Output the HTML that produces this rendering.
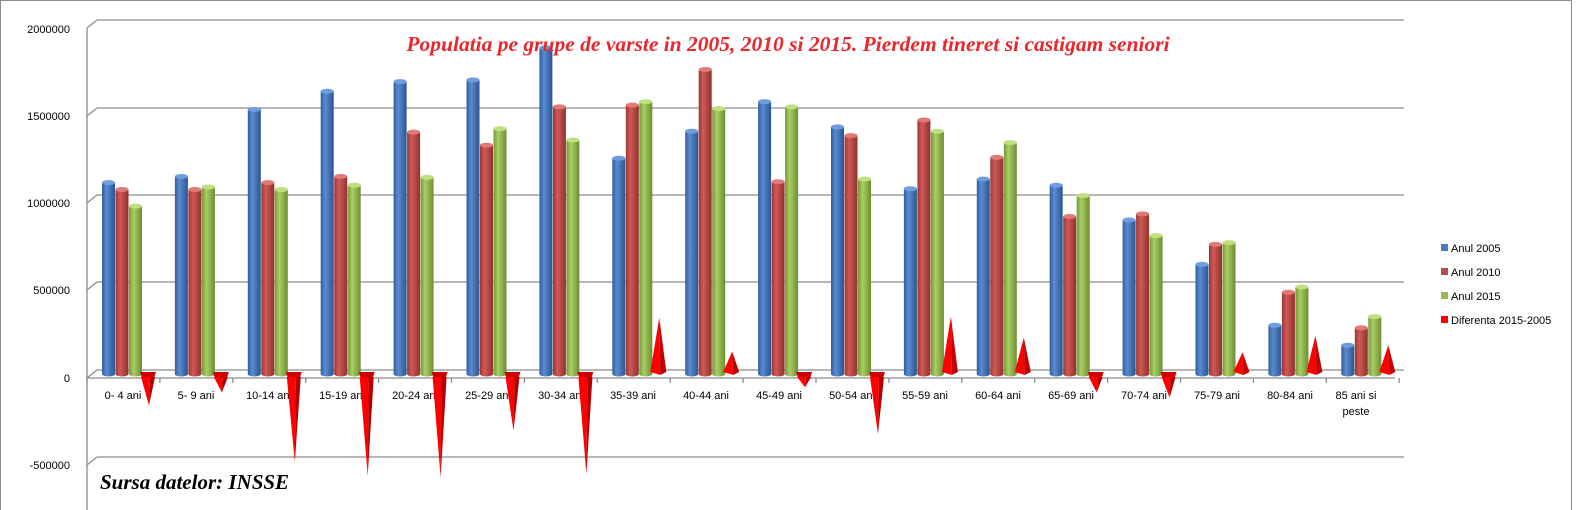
<!DOCTYPE html>
<html><head><meta charset="utf-8"><style>
html,body{margin:0;padding:0;background:#fff}
svg{display:block}
text{font-family:"Liberation Sans",sans-serif;font-size:11px;fill:#000}
</style></head><body>
<svg id="s" width="1578" height="510" xmlns="http://www.w3.org/2000/svg">
<defs>
<linearGradient id="gb" x1="0" x2="1"><stop offset="0" stop-color="#2f5e9c"/><stop offset="0.35" stop-color="#5b8bd0"/><stop offset="1" stop-color="#2a5590"/></linearGradient>
<linearGradient id="gr" x1="0" x2="1"><stop offset="0" stop-color="#9a3633"/><stop offset="0.35" stop-color="#d05a56"/><stop offset="1" stop-color="#8f312e"/></linearGradient>
<linearGradient id="gg" x1="0" x2="1"><stop offset="0" stop-color="#76963a"/><stop offset="0.35" stop-color="#a9cf63"/><stop offset="1" stop-color="#6d8d34"/></linearGradient>
</defs>
<rect x="0.5" y="0.5" width="1571" height="515" fill="#fff" stroke="#8c8c8c"/>
<g id="grid" stroke="#8c8c8c" stroke-width="1.3" fill="none"></g>
<g id="bars"></g>
<g font-size="11">
<text x="70" y="33" text-anchor="end">2000000</text>
<text x="70" y="120" text-anchor="end">1500000</text>
<text x="70" y="207" text-anchor="end">1000000</text>
<text x="70" y="294" text-anchor="end">500000</text>
<text x="70" y="382" text-anchor="end">0</text>
<text x="70" y="469" text-anchor="end">-500000</text>
</g>
<g text-anchor="middle">
<text x="123" y="399">0- 4 ani</text>
<text x="196" y="399">5- 9 ani</text>
<text x="269" y="399">10-14 ani</text>
<text x="342" y="399">15-19 ani</text>
<text x="415" y="399">20-24 ani</text>
<text x="488" y="399">25-29 ani</text>
<text x="561" y="399">30-34 ani</text>
<text x="633" y="399">35-39 ani</text>
<text x="706" y="399">40-44 ani</text>
<text x="779" y="399">45-49 ani</text>
<text x="852" y="399">50-54 ani</text>
<text x="925" y="399">55-59 ani</text>
<text x="998" y="399">60-64 ani</text>
<text x="1071" y="399">65-69 ani</text>
<text x="1144" y="399">70-74 ani</text>
<text x="1217" y="399">75-79 ani</text>
<text x="1290" y="399">80-84 ani</text>
<text x="1356" y="399">85 ani si</text>
<text x="1356" y="415">peste</text>
</g>
<g id="cones"></g>
<text x="788" y="51" text-anchor="middle" style="font-family:'Liberation Serif',serif;font-style:italic;font-weight:bold;font-size:21.5px;fill:#e8262c">Populatia pe grupe de varste in 2005, 2010 si 2015. Pierdem tineret si castigam seniori</text>
<text x="100" y="489" style="font-family:'Liberation Serif',serif;font-style:italic;font-weight:bold;font-size:21px;fill:#000">Sursa datelor: INSSE</text>
<rect x="1441" y="244" width="7" height="7" fill="#4a7ebb"/><text x="1451" y="252">Anul 2005</text>
<rect x="1441" y="268" width="7" height="7" fill="#be4b48"/><text x="1451" y="276">Anul 2010</text>
<rect x="1441" y="292" width="7" height="7" fill="#98b954"/><text x="1451" y="300">Anul 2015</text>
<rect x="1441" y="316" width="7" height="7" fill="#ff0000"/><text x="1451" y="324">Diferenta 2015-2005</text>
</svg>
<script>
var NS="http://www.w3.org/2000/svg";
function el(p,t,a){var e=document.createElementNS(NS,t);for(var k in a)e.setAttribute(k,a[k]);p.appendChild(e);return e;}
var grid=document.getElementById('grid'),bars=document.getElementById('bars'),cones=document.getElementById('cones');
var ys=[20,108,195,282,370,457];
ys.forEach(function(y){el(grid,'line',{x1:97,y1:y,x2:1404,y2:y});el(grid,'line',{x1:87,y1:y+8,x2:97,y2:y});});
el(grid,'line',{x1:87,y1:28,x2:87,y2:510});
el(grid,'line',{x1:87,y1:378,x2:1395,y2:378});
for(var i=0;i<=18;i++){var x=87+i*72.9;el(grid,'line',{x1:x,y1:378,x2:x,y2:383});}
var d=[[1100000,1060000,965000,-135000],[1135000,1060000,1075000,-60000],[1520000,1100000,1060000,-460000],[1625000,1135000,1085000,-540000],[1680000,1390000,1130000,-550000],[1690000,1315000,1410000,-280000],[1875000,1535000,1345000,-530000],[1240000,1545000,1565000,325000],[1395000,1750000,1525000,130000],[1565000,1105000,1535000,-30000],[1420000,1370000,1120000,-300000],[1065000,1460000,1395000,330000],[1120000,1245000,1330000,210000],[1085000,905000,1025000,-60000],[885000,920000,795000,-90000],[630000,745000,755000,125000],[280000,470000,500000,220000],[165000,265000,330000,165000]];
var g=['url(#gb)','url(#gr)','url(#gg)'],tops=['#6f9de0','#df7a76','#bfe07f'];
var Z=374,S=87/500000;
d.forEach(function(r,i){var L=87+i*72.9;
 for(var j=0;j<3;j++){var x=L+15+j*13.5,w=13,y=Z-r[j]*S;
  el(bars,'rect',{x:x,y:y,width:w,height:Z-y,fill:g[j]});
  el(bars,'ellipse',{cx:x+w/2,cy:Z,rx:w/2,ry:2.5,fill:g[j]});
  el(bars,'ellipse',{cx:x+w/2,cy:y,rx:w/2,ry:2.5,fill:tops[j]});}
 var cx=L+61,v=r[3],ty=Z-v*S,b=372;
 var p=cones;
 if(v>0){el(p,'polygon',{points:(cx-8)+','+b+' '+(cx+1)+','+ty+' '+(cx+2)+','+(b+3),fill:'#ff0000'});
  el(p,'polygon',{points:(cx+1)+','+ty+' '+(cx+8)+','+b+' '+(cx+2)+','+(b+3),fill:'#c00000'});}
 else{el(p,'polygon',{points:(cx-8)+','+b+' '+(cx+8)+','+b+' '+(cx+6)+','+(b+6)+' '+(cx-6)+','+(b+6),fill:'#cc0000'});
  el(p,'polygon',{points:(cx-7)+','+(b+5)+' '+(cx+1)+','+(ty+8)+' '+(cx+2)+','+(b+5),fill:'#ff0000'});
  el(p,'polygon',{points:(cx+1)+','+(ty+8)+' '+(cx+7)+','+(b+5)+' '+(cx+2)+','+(b+5),fill:'#b00000'});}
});
</script>
</body></html>
